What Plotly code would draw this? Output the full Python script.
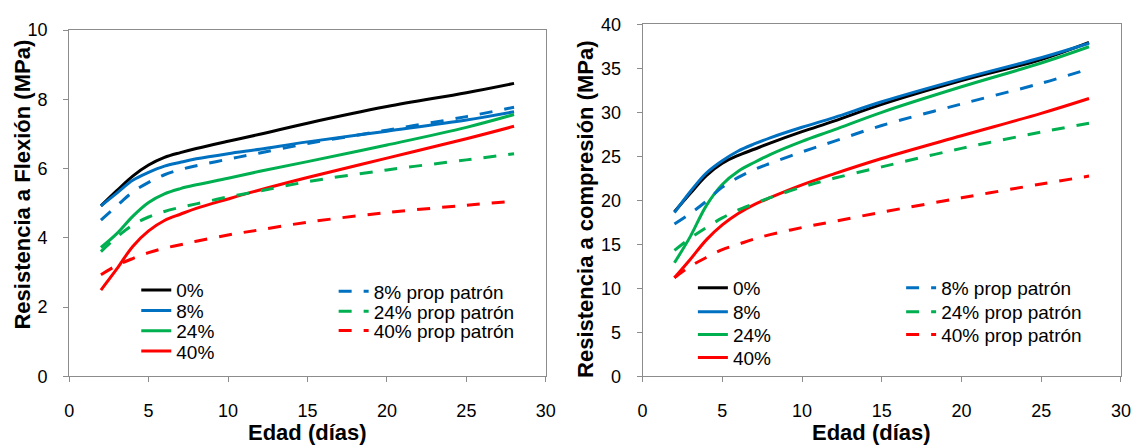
import plotly.graph_objects as go

W, H = 1147, 445

days = [2, 3, 4, 5, 6, 7, 8, 10, 12, 15, 20, 25, 28]

# Left chart: Resistencia a Flexión (MPa)
flex_0 = [4.92, 5.36, 5.78, 6.10, 6.32, 6.46, 6.58, 6.79, 6.99, 7.31, 7.79, 8.19, 8.46]
flex_8 = [4.92, 5.29, 5.66, 5.89, 6.07, 6.18, 6.28, 6.43, 6.56, 6.77, 7.08, 7.40, 7.64]
flex_24 = [3.72, 4.12, 4.62, 5.02, 5.27, 5.42, 5.53, 5.72, 5.92, 6.20, 6.68, 7.19, 7.56]
flex_40 = [2.49, 3.10, 3.75, 4.20, 4.50, 4.68, 4.85, 5.12, 5.38, 5.74, 6.30, 6.86, 7.22]
flex_8p = [4.51, 4.92, 5.32, 5.60, 5.82, 5.97, 6.08, 6.27, 6.45, 6.72, 7.11, 7.50, 7.77]
flex_24p = [3.60, 4.02, 4.37, 4.60, 4.76, 4.88, 4.98, 5.18, 5.35, 5.62, 5.96, 6.25, 6.43]
flex_40p = [2.93, 3.20, 3.40, 3.57, 3.70, 3.80, 3.90, 4.08, 4.23, 4.45, 4.73, 4.94, 5.06]

# Right chart: Resistencia a compresión (MPa)
comp_0 = [18.7, 20.8, 22.8, 24.2, 25.1, 25.8, 26.5, 27.8, 29.0, 30.9, 33.6, 36.0, 37.95]
comp_8 = [18.6, 21.0, 23.1, 24.5, 25.6, 26.4, 27.1, 28.3, 29.4, 31.2, 33.8, 36.2, 37.85]
comp_24 = [12.9, 15.9, 19.4, 21.8, 23.3, 24.3, 25.2, 26.7, 28.0, 30.0, 32.9, 35.6, 37.45]
comp_40 = [11.2, 13.3, 15.5, 17.2, 18.5, 19.5, 20.3, 21.75, 23.0, 24.75, 27.34, 29.88, 31.57]
comp_8p = [17.3, 18.5, 19.9, 21.5, 22.6, 23.5, 24.2, 25.5, 26.7, 28.5, 30.95, 33.3, 34.94]
comp_24p = [14.3, 15.7, 16.9, 18.0, 18.9, 19.6, 20.3, 21.5, 22.5, 23.8, 25.9, 27.75, 28.75]
comp_40p = [11.2, 12.5, 13.5, 14.4, 15.0, 15.6, 16.1, 16.9, 17.6, 18.65, 20.28, 21.85, 22.75]

names = ["0%", "8%", "24%", "40%", "8% prop patrón", "24% prop patrón", "40% prop patrón"]
colors = ["#000000", "#0070C0", "#00B050", "#FF0000", "#0070C0", "#00B050", "#FF0000"]
dashes = ["solid"] * 4 + ["13px,12px"] * 3

FONT = "Liberation Sans, Arial, sans-serif"

fig = go.Figure()

left_series = [flex_0, flex_8, flex_24, flex_40, flex_8p, flex_24p, flex_40p]
right_series = [comp_0, comp_8, comp_24, comp_40, comp_8p, comp_24p, comp_40p]

# legend item positions (px): (left of legend box, row centre)
left_leg = [(133, 293.3), (133, 314.7), (133, 336), (133, 357.3),
            (333, 294.7), (333, 315.7), (333, 335.7)]
right_leg = [(697, 291), (697, 316), (697, 340), (697, 364),
             (908, 291), (908, 316), (908, 340)]

legend_layouts = {}
k = 0
for series, xa, ya, legpos in [(left_series, "x", "y", left_leg), (right_series, "x2", "y2", right_leg)]:
    for i, vals in enumerate(series):
        k += 1
        lname = "legend" if k == 1 else f"legend{k}"
        fig.add_trace(go.Scatter(
            x=days, y=vals, mode="lines", name=names[i],
            line=dict(color=colors[i], width=3, dash=dashes[i], shape="spline", smoothing=1.0),
            xaxis=xa, yaxis=ya, legend=lname, showlegend=True,
        ))
        lx, ly = legpos[i]
        legend_layouts[lname] = dict(
            x=lx / W, y=1 - ly / H, xanchor="left", yanchor="middle",
            bgcolor="rgba(0,0,0,0)", borderwidth=0,
            font=dict(family=FONT, size=19, color="#000000"),
            itemwidth=30, tracegroupgap=0,
        )

axis_common = dict(
    showline=True, linecolor="#8c8c8c", linewidth=1, mirror=True,
    ticks="outside", ticklen=5, tickcolor="#8c8c8c", tickwidth=1,
    showgrid=False, zeroline=False,
    tickfont=dict(family=FONT, size=18, color="#000000"),
)

fig.update_layout(
    width=W, height=H,
    margin=dict(l=0, r=0, t=0, b=0),
    paper_bgcolor="white", plot_bgcolor="white",
    font=dict(family=FONT, color="#000000"),
    xaxis=dict(domain=[65 / W, 548 / W], range=[0, 30], dtick=5, anchor="y",
               ticklabelstandoff=13, **axis_common),
    yaxis=dict(domain=[1 - 383.5 / H, 1 - 21 / H], range=[0, 10], dtick=2, anchor="x",
               ticklabelstandoff=12, **axis_common),
    xaxis2=dict(domain=[646 / W, 1130.7 / W], range=[0, 30], dtick=5, anchor="y2",
                ticklabelstandoff=13, **axis_common),
    yaxis2=dict(domain=[1 - 383.5 / H, 1 - 15 / H], range=[0, 40], dtick=5, anchor="x2",
                ticklabelstandoff=12, **axis_common),
    **legend_layouts,
)

title_font = dict(family=FONT, size=22, color="#000000")
annots = [
    dict(text="<b>Edad (días)</b>", x=307 / W, y=1 - 442 / H),
    dict(text="<b>Edad (días)</b>", x=878 / W, y=1 - 442 / H),
    dict(text="<b>Resistencia a Flexión (MPa)</b>", x=18 / W, y=1 - 183 / H, textangle=-90),
    dict(text="<b>Resistencia a compresión (MPa)</b>", x=588 / W, y=1 - 209 / H, textangle=-90),
]
for a in annots:
    fig.add_annotation(xref="paper", yref="paper", showarrow=False,
                       xanchor="center", yanchor="middle", font=title_font, **a)

fig.write_html("out.html")
